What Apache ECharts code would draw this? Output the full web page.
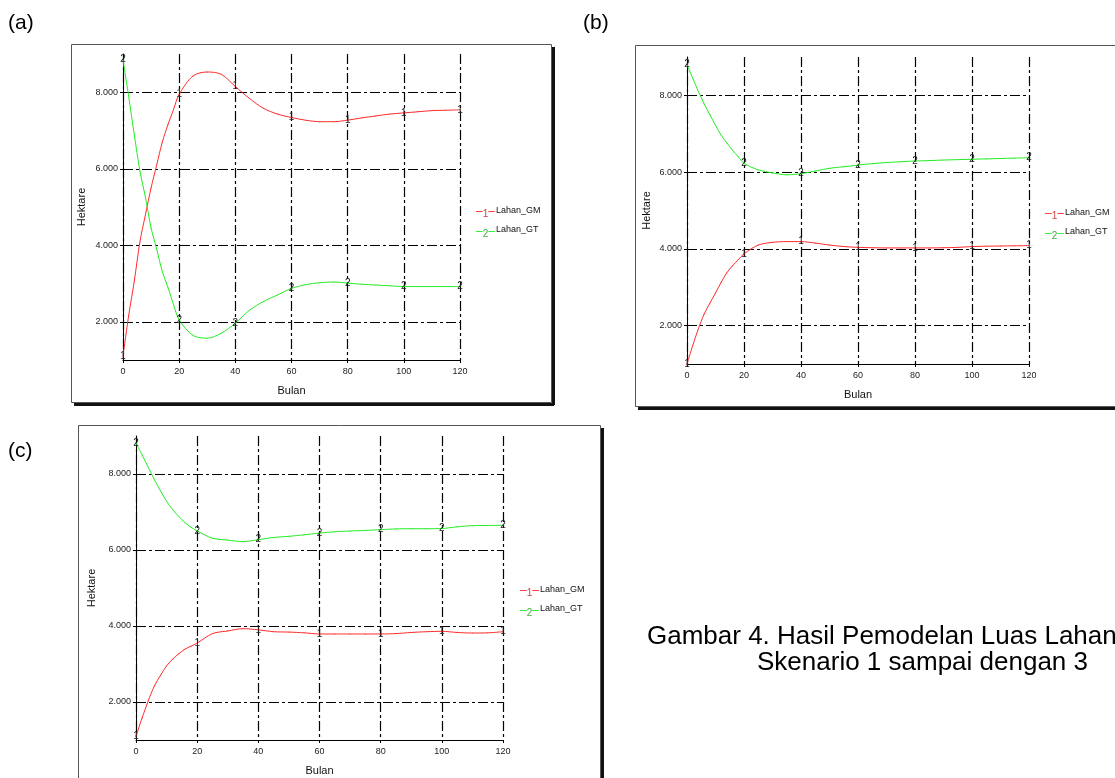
<!DOCTYPE html>
<html>
<head>
<meta charset="utf-8">
<script src="https://cdn.jsdelivr.net/npm/echarts@6/dist/echarts.min.js"></script>
<style>
  html, body { margin: 0; padding: 0; background: #fff; }
  #chart { width: 1115px; height: 778px; }
</style>
</head>
<body>
<div id="chart"></div>
<script>
// data (Bulan vs Hektare)
var months = [0, 2, 4, 6, 8, 10, 12, 14, 16, 18, 20, 25, 30, 35, 40, 45, 50, 55, 60, 65, 70, 75, 80, 85, 90, 95, 100, 105, 110, 115, 120];

// (a) skenario 1
var gmA = [1100, 2150, 3050, 4080, 4800, 5500, 6100, 6700, 7150, 7550, 7950, 8430, 8530, 8470, 8150, 7840, 7580, 7430, 7340, 7270, 7230, 7230, 7270, 7330, 7380, 7430, 7460, 7490, 7520, 7530, 7540];
var gtA = [8850, 7900, 6900, 5950, 5250, 4450, 3900, 3310, 2900, 2450, 2050, 1640, 1570, 1700, 1960, 2300, 2530, 2700, 2870, 2970, 3020, 3040, 3010, 2980, 2960, 2940, 2920, 2920, 2920, 2920, 2920];
// (b) skenario 2
var gmB = [1000, 1480, 1920, 2300, 2580, 2850, 3130, 3380, 3560, 3720, 3870, 4100, 4170, 4190, 4190, 4150, 4100, 4060, 4040, 4030, 4025, 4025, 4025, 4025, 4030, 4040, 4060, 4070, 4075, 4080, 4085];
var gtB = [8800, 8450, 8100, 7780, 7500, 7220, 6960, 6760, 6570, 6400, 6230, 6060, 5980, 5930, 5960, 6030, 6100, 6140, 6185, 6220, 6250, 6270, 6290, 6300, 6315, 6325, 6335, 6345, 6355, 6365, 6375];
// (c) skenario 3
var gmC = [1100, 1580, 2030, 2420, 2700, 2950, 3130, 3270, 3390, 3470, 3550, 3800, 3870, 3930, 3900, 3850, 3840, 3820, 3790, 3790, 3790, 3790, 3790, 3800, 3830, 3850, 3860, 3830, 3815, 3820, 3850];
var gtC = [8820, 8500, 8180, 7850, 7560, 7280, 7060, 6880, 6720, 6600, 6500, 6310, 6260, 6220, 6270, 6330, 6360, 6400, 6445, 6480, 6500, 6515, 6535, 6555, 6560, 6560, 6565, 6610, 6640, 6645, 6650];

var yTicks = [2000, 4000, 6000, 8000];
var markMonths = [0, 20, 40, 60, 80, 100, 120];
var seriesNames = ['Lahan_GM', 'Lahan_GT'];
var panelLabels = ['(a)', '(b)', '(c)'];
var captionLines = ['Gambar 4. Hasil Pemodelan Luas Lahan', 'Skenario 1 sampai dengan 3'];

var FONT = 'Liberation Sans';
var RED = '#ff2b2b';
var GREEN = '#22ee22';
var DASHDOT = [10, 3, 3, 3];

// layout of each panel (pixels)
var panels = [
  { grid: { left: 123, top: 54, width: 337, height: 306 }, frame: [71, 44, 551, 402], legend: { left: 465, top: 201 }, yGap: 36, data: [gmA, gtA] },
  { grid: { left: 687, top: 57, width: 342, height: 307 }, frame: [635, 45, 1130, 406], legend: { left: 1034, top: 203 }, yGap: 35, data: [gmB, gtB] },
  { grid: { left: 136, top: 436, width: 367, height: 304 }, frame: [78, 425, 600, 800], legend: { left: 509, top: 580 }, yGap: 39, data: [gmC, gtC] }
];

function pairs(vals) {
  return months.map(function (m, i) { return [m, vals[i]]; });
}

var grids = [], xAxes = [], yAxes = [], series = [], legends = [], graphics = [];

panels.forEach(function (p, k) {
  grids.push(p.grid);

  xAxes.push({
    gridIndex: k, type: 'value', min: 0, max: 120, interval: 20,
    name: 'Bulan', nameLocation: 'middle', nameGap: 25,
    nameTextStyle: { fontFamily: FONT, fontSize: 11, color: '#111' },
    axisLine: { lineStyle: { color: '#000', width: 1 } },
    axisTick: { show: true, length: 3, lineStyle: { color: '#000' } },
    axisLabel: { fontFamily: FONT, fontSize: 9, color: '#222', margin: 7 },
    splitLine: { show: true, lineStyle: { color: '#000', width: 1.2, type: DASHDOT } }
  });

  yAxes.push({
    gridIndex: k, type: 'value', min: 1000, max: 9000,
    name: 'Hektare', nameLocation: 'middle', nameGap: p.yGap, nameRotate: 90,
    nameTextStyle: { fontFamily: FONT, fontSize: 11, color: '#111' },
    axisLine: { show: true, lineStyle: { color: '#000', width: 1 } },
    axisTick: { show: true, length: 3, customValues: yTicks, lineStyle: { color: '#000' } },
    axisLabel: {
      fontFamily: FONT, fontSize: 9, color: '#222', margin: 5, customValues: yTicks,
      formatter: function (v) { return (v / 1000).toFixed(3); }
    },
    splitLine: { show: true, lineStyle: { color: '#000', width: 1.2, type: DASHDOT } }
  });

  p.data.forEach(function (vals, j) {
    var tag = String(j + 1);
    series.push({
      name: seriesNames[j], type: 'line', xAxisIndex: k, yAxisIndex: k,
      data: pairs(vals), smooth: 0.3,
      symbol: 'circle', symbolSize: 1, showSymbol: true,
      lineStyle: { color: j ? GREEN : RED, width: 1 },
      itemStyle: { color: j ? GREEN : RED },
      label: {
        show: true, position: 'inside', fontFamily: FONT, fontSize: 10, color: '#222',
        formatter: function (d) { return markMonths.indexOf(d.value[0]) >= 0 ? tag : ''; }
      },
      z: 3
    });
  });

  legends.push({
    orient: 'vertical', left: p.legend.left, top: p.legend.top, itemGap: 6,
    icon: 'rect', itemWidth: 1, itemHeight: 1,
    itemStyle: { color: 'rgba(0,0,0,0)', borderWidth: 0 },
    lineStyle: { width: 0, opacity: 0 },
    selectedMode: false,
    data: seriesNames,
    formatter: function (name) {
      var i = seriesNames.indexOf(name);
      return '{d' + i + '|\u2013}{n' + i + '|' + (i + 1) + '}{d' + i + '|\u2013}{t|' + name + '}';
    },
    textStyle: {
      fontFamily: FONT, fontSize: 9, color: '#111',
      rich: {
        d0: { color: RED, fontSize: 12, fontFamily: FONT },
        n0: { color: '#c44', fontSize: 10, fontFamily: FONT, padding: [5, 0, 0, 0] },
        d1: { color: GREEN, fontSize: 12, fontFamily: FONT },
        n1: { color: '#4a4', fontSize: 10, fontFamily: FONT, padding: [5, 0, 0, 0] },
        t: { color: '#111', fontSize: 9, fontFamily: FONT, padding: [0, 0, 3, 1] }
      }
    }
  });

  // frame with the dark drop shadow on the right and bottom
  var f = p.frame;
  graphics.push({ type: 'rect', shape: { x: f[0] + 0.5, y: f[1] + 0.5, width: f[2] - f[0], height: f[3] - f[1] }, style: { fill: 'none', stroke: '#555', lineWidth: 1 }, silent: true });
  graphics.push({ type: 'rect', shape: { x: f[2] + 1, y: f[1] + 3, width: 3, height: f[3] - f[1] }, style: { fill: '#111' }, silent: true });
  graphics.push({ type: 'rect', shape: { x: f[0] + 3, y: f[3] + 1, width: f[2] - f[0], height: 3 }, style: { fill: '#111' }, silent: true });
});

var labelPos = [[8, 13], [583, 13], [8, 441]];
panelLabels.forEach(function (t, i) {
  graphics.push({ type: 'text', x: labelPos[i][0], y: labelPos[i][1], style: { text: t, font: '21px "Liberation Sans"', fill: '#000' }, silent: true });
});
graphics.push({ type: 'text', x: 647, y: 624, style: { text: captionLines[0], font: '26px "Liberation Sans"', fill: '#000' }, silent: true });
graphics.push({ type: 'text', x: 757, y: 650, style: { text: captionLines[1], font: '26px "Liberation Sans"', fill: '#000' }, silent: true });

var chart = echarts.init(document.getElementById('chart'));
chart.setOption({
  backgroundColor: '#fff',
  animation: false,
  grid: grids,
  xAxis: xAxes,
  yAxis: yAxes,
  legend: legends,
  series: series,
  graphic: { elements: graphics }
});
</script>
</body>
</html>
